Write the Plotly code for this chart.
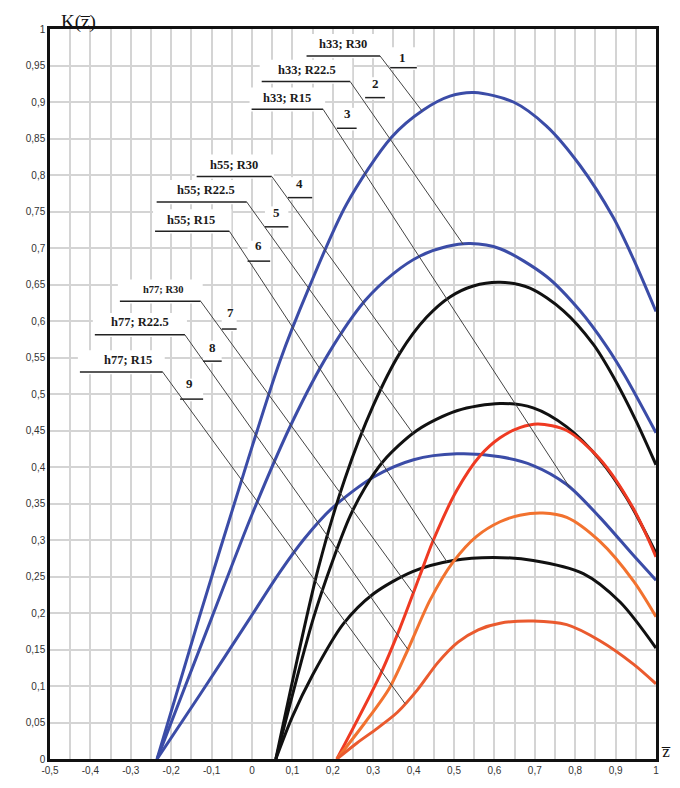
import numpy as np
import plotly.graph_objects as go

# ---- data ----
x1 = [-0.235, -0.13, -0.02, 0.069, 0.139, 0.234, 0.346, 0.424, 0.49, 0.55, 0.647, 0.729, 0.812, 0.894, 0.944, 1.0]
y1 = [0, 0.195, 0.392, 0.545, 0.643, 0.760, 0.852, 0.889, 0.908, 0.913, 0.900, 0.867, 0.813, 0.742, 0.685, 0.613]

x2 = [-0.235, -0.1, 0.0, 0.1, 0.19, 0.28, 0.35, 0.416, 0.482, 0.54, 0.614, 0.729, 0.812, 0.878, 0.923, 1.0]
y2 = [0, 0.193, 0.335, 0.462, 0.556, 0.628, 0.665, 0.689, 0.702, 0.706, 0.699, 0.661, 0.614, 0.565, 0.525, 0.447]

x3 = [-0.235, -0.129, -0.005, 0.069, 0.13, 0.197, 0.30, 0.40, 0.507, 0.614, 0.696, 0.779, 0.861, 0.944, 1.0]
y3 = [0, 0.088, 0.193, 0.256, 0.302, 0.343, 0.386, 0.410, 0.418, 0.414, 0.402, 0.376, 0.331, 0.279, 0.245]

x4 = [0.059, 0.164, 0.23, 0.30, 0.366, 0.432, 0.490, 0.548, 0.614, 0.688, 0.771, 0.845, 0.894, 0.95, 1.0]
y4 = [0, 0.261, 0.384, 0.484, 0.556, 0.605, 0.633, 0.648, 0.653, 0.645, 0.614, 0.568, 0.524, 0.464, 0.403]

x5 = [0.059, 0.152, 0.20, 0.243, 0.28, 0.325, 0.408, 0.507, 0.614, 0.696, 0.779, 0.861, 0.927, 1.0]
y5 = [0, 0.193, 0.272, 0.333, 0.372, 0.408, 0.450, 0.477, 0.487, 0.481, 0.455, 0.410, 0.358, 0.282]

x6 = [0.059, 0.10, 0.15, 0.226, 0.300, 0.399, 0.498, 0.597, 0.696, 0.820, 0.911, 1.0]
y6 = [0, 0.058, 0.115, 0.185, 0.226, 0.257, 0.272, 0.276, 0.272, 0.254, 0.215, 0.152]

x7 = [0.21, 0.317, 0.366, 0.416, 0.449, 0.507, 0.564, 0.614, 0.663, 0.708, 0.779, 0.861, 0.944, 1.0]
y7 = [0, 0.115, 0.179, 0.252, 0.300, 0.368, 0.415, 0.440, 0.454, 0.459, 0.450, 0.411, 0.343, 0.277]

x8 = [0.21, 0.28, 0.34, 0.386, 0.441, 0.498, 0.556, 0.614, 0.663, 0.72, 0.779, 0.861, 0.944, 1.0]
y8 = [0, 0.050, 0.097, 0.150, 0.218, 0.270, 0.305, 0.325, 0.334, 0.337, 0.331, 0.298, 0.244, 0.195]

x9 = [0.21, 0.26, 0.31, 0.36, 0.41, 0.46, 0.51, 0.56, 0.614, 0.696, 0.779, 0.861, 0.944, 1.0]
y9 = [0, 0.022, 0.042, 0.064, 0.095, 0.132, 0.160, 0.177, 0.186, 0.189, 0.184, 0.162, 0.130, 0.103]

series_names = ["h33; R30", "h33; R22.5", "h33; R15",
                "h55; R30", "h55; R22.5", "h55; R15",
                "h77; R30", "h77; R22.5", "h77; R15"]
series_numbers = ["1", "2", "3", "4", "5", "6", "7", "8", "9"]

x_tick_vals = [-0.5, -0.4, -0.3, -0.2, -0.1, 0, 0.1, 0.2, 0.3, 0.4, 0.5, 0.6, 0.7, 0.8, 0.9, 1.0]
x_tick_text = ["-0,5", "-0,4", "-0,3", "-0,2", "-0,1", "0", "0,1", "0,2", "0,3", "0,4",
               "0,5", "0,6", "0,7", "0,8", "0,9", "1"]
y_tick_vals = [0, 0.05, 0.1, 0.15, 0.2, 0.25, 0.3, 0.35, 0.4, 0.45, 0.5, 0.55, 0.6, 0.65,
               0.7, 0.75, 0.8, 0.85, 0.9, 0.95, 1.0]
y_tick_text = ["0", "0,05", "0,1", "0,15", "0,2", "0,25", "0,3", "0,35", "0,4", "0,45", "0,5",
               "0,55", "0,6", "0,65", "0,7", "0,75", "0,8", "0,85", "0,9", "0,95", "1"]

xs = [x1, x2, x3, x4, x5, x6, x7, x8, x9]
ys = [y1, y2, y3, y4, y5, y6, y7, y8, y9]

# ---- styles / layout positions ----
BLUE = "#3b4ca7"
BLACK = "#111111"
colors = [BLUE, BLUE, BLUE, BLACK, BLACK, BLACK, "#ef3a22", "#f2722f", "#ea5a2e"]

# label layout (data coords): underline x0, x1, y; text center; number center;
# number underline x0, x1, y; leader end x on the curve
labels = [
    dict(ul=(0.135, 0.317, 0.963), tc=(0.225, 0.979), nc=(0.372, 0.961), nu=(0.342, 0.408, 0.947), end=0.421, fs=12.5),
    dict(ul=(0.024, 0.243, 0.928), tc=(0.135, 0.944), nc=(0.305, 0.925), nu=(0.280, 0.329, 0.906), end=0.523, fs=12.5),
    dict(ul=(-0.001, 0.176, 0.890), tc=(0.087, 0.906), nc=(0.237, 0.884), nu=(0.210, 0.259, 0.864), end=0.787, fs=12.5),
    dict(ul=(-0.137, 0.049, 0.798), tc=(-0.045, 0.814), nc=(0.118, 0.789), nu=(0.089, 0.149, 0.769), end=0.366, fs=12.5),
    dict(ul=(-0.236, -0.013, 0.763), tc=(-0.113, 0.779), nc=(0.060, 0.749), nu=(0.032, 0.090, 0.729), end=0.399, fs=12.5),
    dict(ul=(-0.240, -0.056, 0.723), tc=(-0.150, 0.739), nc=(0.016, 0.703), nu=(-0.011, 0.045, 0.682), end=0.483, fs=12.5),
    dict(ul=(-0.327, -0.127, 0.627), tc=(-0.220, 0.643), nc=(-0.052, 0.611), nu=(-0.075, -0.038, 0.589), end=0.399, fs=10.5),
    dict(ul=(-0.389, -0.166, 0.581), tc=(-0.278, 0.598), nc=(-0.099, 0.564), nu=(-0.121, -0.075, 0.545), end=0.386, fs=12.5),
    dict(ul=(-0.426, -0.221, 0.530), tc=(-0.306, 0.546), nc=(-0.154, 0.514), nu=(-0.178, -0.121, 0.493), end=0.379, fs=12.5),
]

fig = go.Figure()

shapes = []
annotations = []

# white backgrounds behind label blocks (hide the grid like in the original)
for lb in labels:
    x0, x1_, yu = lb["ul"]
    shapes.append(dict(type="rect", xref="x", yref="y", layer="between",
                       x0=x0 - 0.005, x1=x1_ + 0.005, y0=yu - 0.003, y1=yu + 0.03,
                       fillcolor="white", line=dict(width=0)))
    nx0, nx1, ny = lb["nu"]
    shapes.append(dict(type="rect", xref="x", yref="y", layer="between",
                       x0=nx0, x1=nx1, y0=ny - 0.003, y1=ny + 0.028,
                       fillcolor="white", line=dict(width=0)))

for i in range(9):
    fig.add_trace(go.Scatter(x=xs[i], y=ys[i], mode="lines", name=series_names[i],
                             line=dict(color=colors[i], width=3, shape="spline", smoothing=0.85),
                             showlegend=False, hoverinfo="skip"))

for i, lb in enumerate(labels):
    x0, x1_, yu = lb["ul"]
    ex = lb["end"]
    ey = float(np.interp(ex, xs[i], ys[i]))
    shapes.append(dict(type="line", xref="x", yref="y", layer="above",
                       x0=x0, x1=x1_, y0=yu, y1=yu, line=dict(color="#222222", width=1.5)))
    shapes.append(dict(type="line", xref="x", yref="y", layer="above",
                       x0=x1_, y0=yu, x1=ex, y1=ey, line=dict(color="#444444", width=1)))
    nx0, nx1, ny = lb["nu"]
    shapes.append(dict(type="line", xref="x", yref="y", layer="above",
                       x0=nx0, x1=nx1, y0=ny, y1=ny, line=dict(color="#222222", width=1.5)))
    annotations.append(dict(x=lb["tc"][0], y=lb["tc"][1], xref="x", yref="y",
                            text="<b>" + series_names[i] + "</b>", showarrow=False,
                            font=dict(family="Liberation Serif", size=lb["fs"], color="#1a1a1a")))
    annotations.append(dict(x=lb["nc"][0], y=lb["nc"][1], xref="x", yref="y",
                            text="<b>" + series_numbers[i] + "</b>", showarrow=False,
                            font=dict(family="Liberation Serif", size=13, color="#1a1a1a")))

# axis titles
annotations.append(dict(x=-0.43, y=1.0, xref="x", yref="y", yanchor="bottom", yshift=-6,
                        text="K(z\u0305)", showarrow=False,
                        font=dict(family="Liberation Serif", size=19, color="#111111")))
annotations.append(dict(x=1.0, y=0.0, xref="x", yref="y", xanchor="left", yanchor="bottom",
                        xshift=3, yshift=-4, text="z\u0305", showarrow=False,
                        font=dict(family="Liberation Serif", size=17, color="#111111")))

grid_color = "#d4d4d4"
fig.update_layout(
    width=672, height=780,
    margin=dict(l=42, r=24, t=21, b=27),
    paper_bgcolor="white", plot_bgcolor="white",
    shapes=shapes, annotations=annotations,
    xaxis=dict(range=[-0.5, 1.0], tickvals=x_tick_vals, ticktext=x_tick_text,
               showgrid=True, gridcolor=grid_color, gridwidth=1.5,
               minor=dict(dtick=0.05, tick0=0, showgrid=True, gridcolor=grid_color, gridwidth=1.5),
               showline=True, linecolor="#111111", linewidth=2.5, mirror=True,
               zeroline=False, ticks="", tickfont=dict(family="Liberation Sans", size=10, color="#333333")),
    yaxis=dict(range=[0, 1.0], tickvals=y_tick_vals, ticktext=y_tick_text,
               showgrid=True, gridcolor=grid_color, gridwidth=1.5,
               showline=True, linecolor="#111111", linewidth=2.5, mirror=True,
               zeroline=False, ticks="", tickfont=dict(family="Liberation Sans", size=10, color="#333333")),
)

fig.write_html("out.html")
